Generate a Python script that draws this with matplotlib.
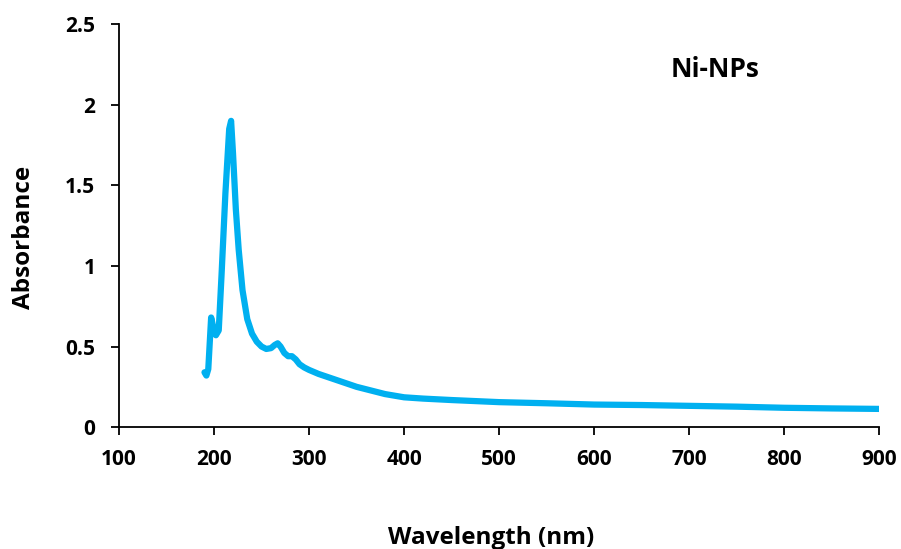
import matplotlib
matplotlib.use("Agg")
import matplotlib.pyplot as plt

# UV-Vis spectrum
wavelength = [190, 192, 194, 197, 200, 202, 205, 208, 212, 216, 218, 220, 223, 226,
              230, 235, 240, 245, 250, 255, 260, 264, 267, 270, 274, 278, 282, 286,
              290, 295, 300, 310, 320, 330, 340, 350, 360, 370, 380, 390, 400, 420,
              450, 500, 550, 600, 650, 700, 750, 800, 850, 900]
absorbance = [0.34, 0.32, 0.36, 0.68, 0.60, 0.57, 0.60, 0.95, 1.45, 1.85, 1.90, 1.70, 1.35, 1.10,
              0.85, 0.67, 0.58, 0.53, 0.50, 0.485, 0.49, 0.51, 0.52, 0.50, 0.46, 0.44, 0.44, 0.42,
              0.39, 0.37, 0.355, 0.33, 0.31, 0.29, 0.27, 0.25, 0.235, 0.22, 0.205, 0.195, 0.185, 0.177,
              0.168, 0.155, 0.148, 0.14, 0.137, 0.132, 0.127, 0.12, 0.116, 0.113]

xticks = [100, 200, 300, 400, 500, 600, 700, 800, 900]
yticks = [0, 0.5, 1, 1.5, 2, 2.5]
ytick_labels = ["0", "0.5", "1", "1.5", "2", "2.5"]

plt.rcParams["font.family"] = ["Open Sans", "DejaVu Sans"]
plt.rcParams["font.weight"] = "bold"

fig = plt.figure(figsize=(9.01, 5.49), dpi=100)
ax = fig.add_axes([0.132, 0.222, 0.844, 0.734])

ax.plot(wavelength, absorbance, color="#00B0F0", lw=4.5, solid_capstyle="round",
        solid_joinstyle="round")

ax.set_xlim(100, 900)
ax.set_ylim(0, 2.5)
ax.set_xticks(xticks)
ax.set_yticks(yticks)
ax.set_yticklabels(ytick_labels)
ax.tick_params(direction="out", length=6, width=1.3, labelsize=15)
ax.tick_params(axis="x", pad=10)
ax.tick_params(axis="y", pad=11)
for lab in ax.get_xticklabels() + ax.get_yticklabels():
    lab.set_fontweight("bold")

for s in ["top", "right"]:
    ax.spines[s].set_visible(False)
for s in ["left", "bottom"]:
    ax.spines[s].set_linewidth(1.3)

ax.set_xlabel("Wavelength (nm)", fontsize=17.5, fontweight="bold")
ax.xaxis.set_label_coords(0.49, -0.245)
ax.set_ylabel("Absorbance", fontsize=17.5, fontweight="bold")
ax.yaxis.set_label_coords(-0.109, 0.47)

ax.text(0.784, 0.888, "Ni-NPs", transform=ax.transAxes, fontsize=19,
        fontweight="bold", ha="center", va="center")

plt.savefig("out.png", dpi=100)
plt.close()
